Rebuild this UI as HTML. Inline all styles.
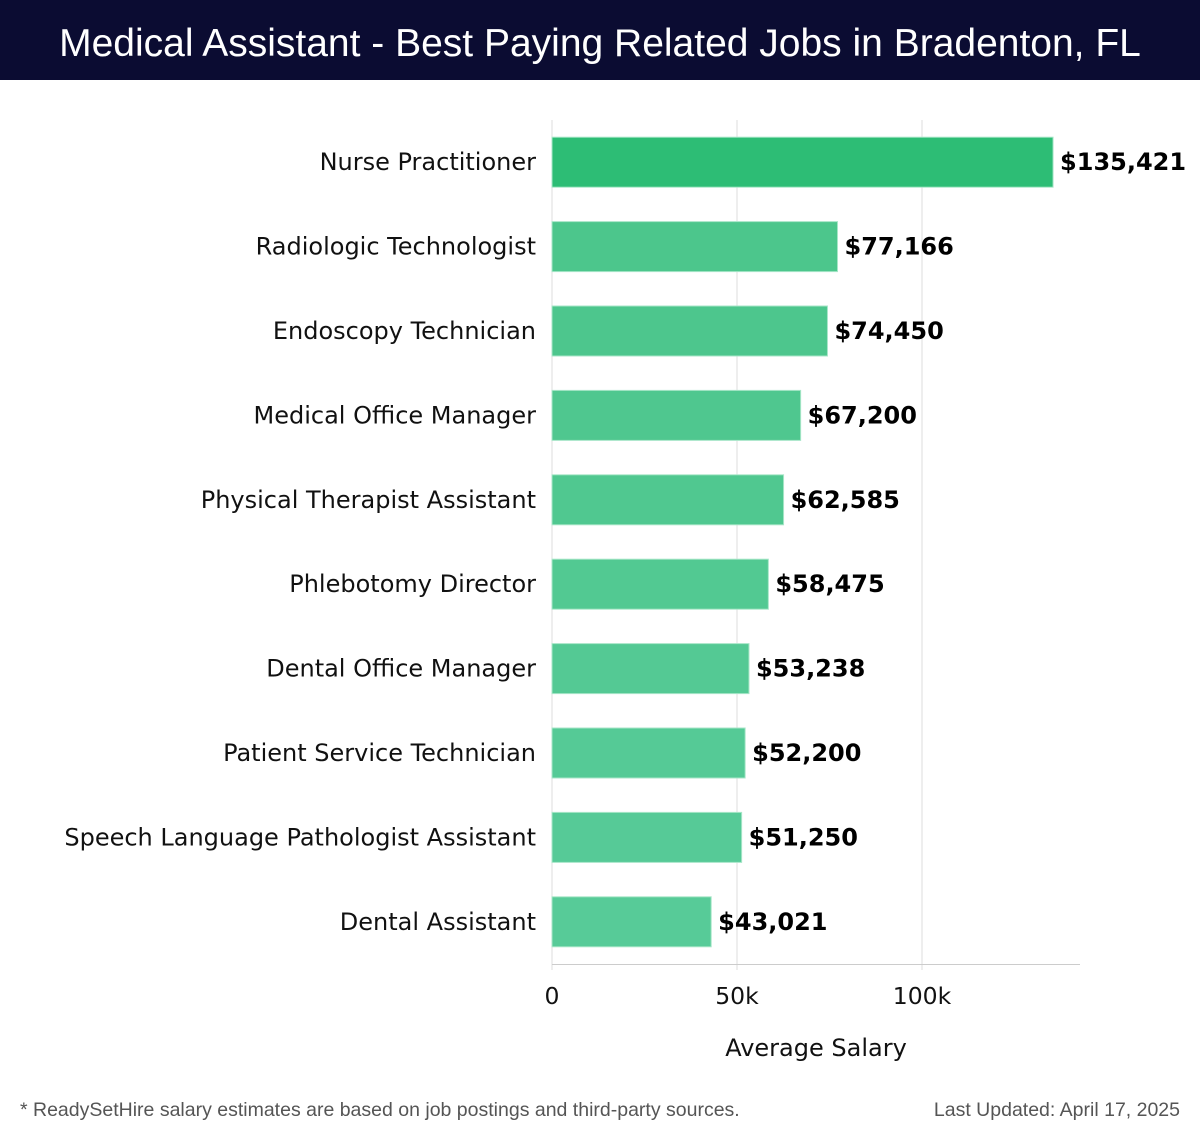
<!DOCTYPE html>
<html><head><meta charset="utf-8"><style>
body{margin:0;width:1200px;height:1140px;background:#fff;position:relative;font-family:"DejaVu Sans","Liberation Sans",sans-serif;overflow:hidden}
#hdr{position:absolute;left:0;top:0;width:1200px;height:80px;background:#0b0c32;color:#fff;font-family:"Liberation Sans",sans-serif;font-size:39px;text-align:center;line-height:88px;font-weight:300}
.foot{position:absolute;top:1099px;font-size:19.5px;color:#555;font-family:"Liberation Sans",sans-serif}
</style></head><body>
<div id="hdr">Medical Assistant - Best Paying Related Jobs in Bradenton, FL</div>
<svg id="chart" width="1200" height="1090" style="position:absolute;left:0;top:0"></svg>
<div class="foot" style="left:20px">* ReadySetHire salary estimates are based on job postings and third-party sources.</div>
<div class="foot" style="right:20px">Last Updated: April 17, 2025</div>
<script>
const categories=["Nurse Practitioner","Radiologic Technologist","Endoscopy Technician","Medical Office Manager","Physical Therapist Assistant","Phlebotomy Director","Dental Office Manager","Patient Service Technician","Speech Language Pathologist Assistant","Dental Assistant"];
const salaries=[135421,77166,74450,67200,62585,58475,53238,52200,51250,43021];
const tickValues=[0,50000,100000];
const tickLabels=["0","50k","100k"];
const svg=document.getElementById('chart');
const NS="http://www.w3.org/2000/svg";
const x0=552,pxPer=370/100000,topY=120,step=84.4,bh=50;
const xs=v=>x0+v*pxPer;
const yc=i=>topY+step*(i+0.5);
function mk(t,a,txt){const e=document.createElementNS(NS,t);for(const k in a)e.setAttribute(k,a[k]);if(txt!==undefined)e.textContent=txt;svg.appendChild(e);return e;}
tickValues.forEach((v,i)=>{
 const g=mk('line',{x1:xs(v),x2:xs(v),y1:topY,y2:970,stroke:'#ddd','stroke-width':1});
 
 
 const t=mk('text',{x:xs(v),y:1004,'text-anchor':'middle','font-size':23.5,fill:'#111'},tickLabels[i]);
 
 
});
const ax=mk('line',{x1:x0,x2:1080,y1:964.5,y2:964.5,stroke:'#ccc','stroke-width':1});


const xt=mk('text',{x:816,y:1056,'text-anchor':'middle','font-size':24,fill:'#111'},'Average Salary');


const cols=['#2dbd75','#4cc68c','#4dc68d','#4fc78f','#50c890','#52c992','#54c994','#55ca96','#56ca97','#57cb98'];
categories.forEach((c,i)=>{
 const y=yc(i);
 const r=mk('rect',{x:x0,y:y-bh/2,width:xs(salaries[i])-x0,height:bh,fill:cols[i],stroke:'#a8e6c8','stroke-width':1});
 
 
 const l=mk('text',{x:536,y:y+8,'text-anchor':'end','font-size':24,fill:'#111'},c);
 
 
 const v=mk('text',{x:xs(salaries[i])+7,y:y+8,'font-size':24,'font-weight':'bold',fill:'#000'},'$'+salaries[i].toLocaleString('en-US'));
 
 
});
</script>
</body></html>
